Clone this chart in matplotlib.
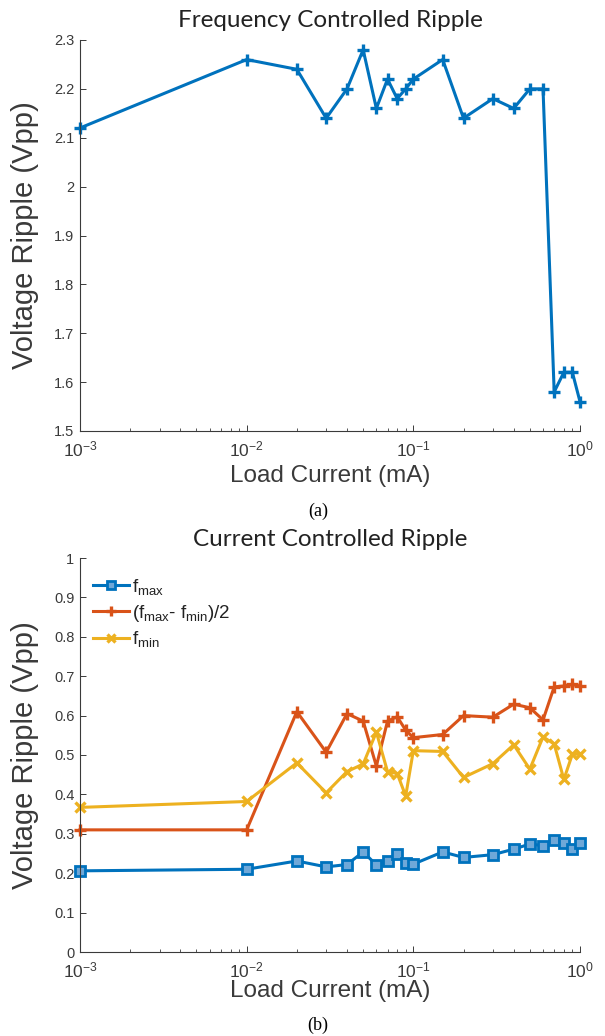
import matplotlib
matplotlib.use("Agg")
import matplotlib.pyplot as plt
from matplotlib.ticker import FixedLocator, FixedFormatter, LogLocator, NullFormatter

plt.rcParams['font.family'] = ['Liberation Sans', 'DejaVu Sans']
plt.rcParams['mathtext.fontset'] = 'custom'
plt.rcParams['mathtext.rm'] = 'Liberation Sans'
plt.rcParams['mathtext.it'] = 'Liberation Sans'

# ---------------- data ----------------
load_current = [0.001, 0.01, 0.02, 0.03, 0.04, 0.05, 0.06, 0.07, 0.08, 0.09, 0.1,
                0.15, 0.2, 0.3, 0.4, 0.5, 0.6, 0.7, 0.8, 0.9, 1.0]

freq_ripple = [2.12, 2.26, 2.24, 2.14, 2.20, 2.28, 2.16, 2.22, 2.18, 2.20, 2.22,
               2.26, 2.14, 2.18, 2.16, 2.20, 2.20, 1.58, 1.62, 1.62, 1.56]

f_max = [0.206, 0.210, 0.231, 0.216, 0.222, 0.254, 0.221, 0.232, 0.250, 0.225, 0.223,
         0.254, 0.240, 0.247, 0.261, 0.274, 0.270, 0.283, 0.276, 0.261, 0.276]
f_half = [0.310, 0.310, 0.610, 0.507, 0.605, 0.586, 0.472, 0.586, 0.597, 0.563, 0.544,
          0.552, 0.600, 0.596, 0.629, 0.620, 0.589, 0.673, 0.675, 0.679, 0.675]
f_min = [0.367, 0.382, 0.480, 0.404, 0.458, 0.477, 0.558, 0.458, 0.453, 0.396, 0.511,
         0.509, 0.443, 0.478, 0.526, 0.464, 0.546, 0.528, 0.438, 0.502, 0.502]

series_labels = [r'$\mathregular{f_{max}}$',
                 r'$\mathregular{(f_{max}}$- $\mathregular{f_{min})/2}$',
                 r'$\mathregular{f_{min}}$']

top_yticks = [1.5, 1.6, 1.7, 1.8, 1.9, 2.0, 2.1, 2.2, 2.3]
top_ylabels = ['1.5', '1.6', '1.7', '1.8', '1.9', '2', '2.1', '2.2', '2.3']
bot_yticks = [0, 0.1, 0.2, 0.3, 0.4, 0.5, 0.6, 0.7, 0.8, 0.9, 1.0]
bot_ylabels = ['0', '0.1', '0.2', '0.3', '0.4', '0.5', '0.6', '0.7', '0.8', '0.9', '1']

titles = ['Frequency Controlled Ripple', 'Current Controlled Ripple']
xlabel = 'Load Current (mA)'
ylabel = 'Voltage Ripple (Vpp)'
captions = ['(a)', '(b)']

# ---------------- style ----------------
BLUE = '#0072BD'
RED = '#D95319'
YEL = '#EDB120'
AXC = '#3a3a3a'
W, H = 605, 1036

fig = plt.figure(figsize=(W / 100, H / 100), dpi=100)
ax1 = fig.add_axes([80 / W, 1 - 431 / H, 500 / W, 391 / H])
ax2 = fig.add_axes([80 / W, 1 - 952 / H, 500 / W, 394 / H])


def style(ax, yt, yl, ylim, xlabelpad):
    ax.set_xscale('log')
    ax.set_xlim(1e-3, 1)
    ax.set_ylim(*ylim)
    ax.yaxis.set_major_locator(FixedLocator(yt))
    ax.yaxis.set_major_formatter(FixedFormatter(yl))
    ax.xaxis.set_major_locator(LogLocator(base=10, numticks=10))
    ax.xaxis.set_minor_locator(LogLocator(base=10, subs=range(2, 10), numticks=10))
    ax.xaxis.set_minor_formatter(NullFormatter())
    for s in ['top', 'right']:
        ax.spines[s].set_visible(False)
    for s in ['left', 'bottom']:
        ax.spines[s].set_color(AXC)
        ax.spines[s].set_linewidth(0.8)
    ax.tick_params(axis='both', which='major', direction='in', length=4,
                   width=0.7, color=AXC, labelcolor=AXC, labelsize=10.5, pad=4)
    ax.tick_params(axis='x', which='minor', direction='in', length=2.5,
                   width=0.6, color=AXC)
    ax.tick_params(axis='x', which='major', pad=6, labelsize=12.5)
    ax.set_xlabel(xlabel, fontsize=17.5, color=AXC, labelpad=xlabelpad)
    ax.set_ylabel(ylabel, fontsize=21, color=AXC, labelpad=11)


style(ax1, top_yticks, top_ylabels, (1.5, 2.3), 4)
style(ax2, bot_yticks, bot_ylabels, (0, 1), 0)

ax1.plot(load_current, freq_ripple, color=BLUE, lw=2.2, marker='+', ms=9, mew=2.4,
         clip_on=False)

ax2.plot(load_current, f_max, color=BLUE, lw=2.2, marker='s', ms=6.5, mew=2.0,
         mfc='#6fa8d8', mec=BLUE, label=series_labels[0], clip_on=False)
ax2.plot(load_current, f_half, color=RED, lw=2.2, marker='+', ms=9, mew=2.4,
         label=series_labels[1], clip_on=False)
ax2.plot(load_current, f_min, color=YEL, lw=2.2, marker='x', ms=7, mew=2.4,
         label=series_labels[2], clip_on=False)

leg = ax2.legend(loc='upper left', bbox_to_anchor=(0.0, 0.985), frameon=False,
                 fontsize=13.5, handlelength=1.9, handletextpad=0.2,
                 labelspacing=0.3, borderaxespad=0.3, markerscale=0.8)
for t in leg.get_texts():
    t.set_color('#222222')

for ax, title in zip([ax1, ax2], titles):
    ax.set_title(title, fontsize=17.5, family='Lato', color='#222222', pad=9)

fig.text(318 / W, 1 - 511 / H, captions[0], ha='center', va='center',
         fontsize=13, family='Liberation Serif', color='black')
fig.text(318 / W, 1 - 1025 / H, captions[1], ha='center', va='center',
         fontsize=13, family='Liberation Serif', color='black')

fig.savefig('out.png', dpi=100)
